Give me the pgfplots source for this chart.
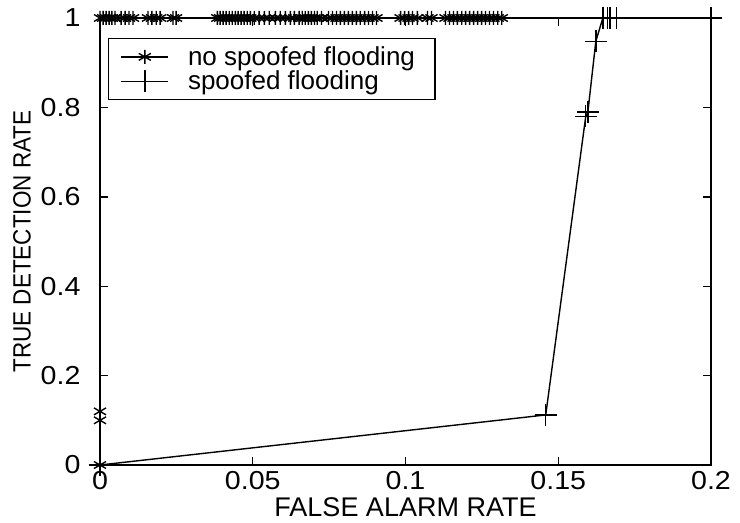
\documentclass[border=0pt]{standalone}
\usepackage{pgfplots}
\pgfplotsset{compat=1.18}
\usepackage{fontspec}
\setmainfont{Liberation Sans}
\newfontfamily\tickfont{Liberation Sans}[FakeStretch=1.1]
\begin{document}
\begin{tikzpicture}
\begin{axis}[
  scale only axis,
  width=611pt, height=447pt,
  xmin=0, xmax=0.2, ymin=0, ymax=1,
  xtick={0,0.05,0.1,0.15,0.2},
  ytick={0,0.2,0.4,0.6,0.8,1},
  xticklabels={0,0.05,0.1,0.15,0.2},
  yticklabels={0,0.2,0.4,0.6,0.8,1},
  tick align=inside,
  major tick length=8pt,
  axis line style={line width=1.6pt},
  tick style={line width=1.4pt, black},
  ticklabel style={font=\tickfont\fontsize{26}{28}\selectfont},
  xticklabel style={yshift=-3pt},
  yticklabel style={xshift=-16pt},
  /pgf/number format/assume math mode=true,
  xlabel={FALSE ALARM RATE},
  ylabel={\scalebox{0.9}[1]{TRUE DETECTION RATE}},
  xlabel style={font=\fontsize{27}{30}\selectfont, at={(rel axis cs:0.5,-0.094)}, anchor=center},
  ylabel style={font=\fontsize{25}{30}\selectfont, at={(rel axis cs:-0.1277,0.5)}, anchor=center},
  clip=false,
  legend cell align=left,
  legend style={at={(rel axis cs:0.0131,0.955)}, anchor=north west,
    draw=black, line width=1.2pt, font=\fontsize{26}{30}\selectfont,
    inner xsep=12pt, inner ysep=6pt, row sep=0pt,
    /tikz/every odd column/.style={column sep=17pt}},
  legend image code/.code={\draw[mark repeat=2,mark phase=2,#1] plot coordinates {(0pt,0pt) (23.5pt,0pt) (47pt,0pt)};},
]
\addplot[black, line width=1.4pt, mark=asterisk, mark size=7pt, mark options={line width=1.4pt}] coordinates {
(0,0) (0,0.1) (0,0.12) (0,1)
(0.0010,1) (0.0020,1) (0.0030,1) (0.0039,1) (0.0049,1)
(0.0069,1) (0.0082,1) (0.0095,1) (0.0108,1)
(0.0157,1) (0.0170,1) (0.0184,1) (0.0197,1)
(0.0239,1) (0.0249,1)
(0.0384,1) (0.0393,1) (0.0403,1) (0.0413,1) (0.0423,1) (0.0433,1) (0.0443,1) (0.0452,1) (0.0462,1) (0.0472,1) (0.0482,1) (0.0492,1)
(0.0505,1) (0.0521,1) (0.0538,1) (0.0554,1) (0.0574,1) (0.0590,1) (0.0607,1) (0.0623,1) (0.0636,1)
(0.0652,1) (0.0662,1) (0.0672,1) (0.0682,1) (0.0692,1) (0.0702,1)
(0.0711,1) (0.0725,1)
(0.0748,1) (0.0761,1) (0.0774,1) (0.0787,1)
(0.0800,1) (0.0813,1) (0.0826,1) (0.0839,1) (0.0852,1) (0.0866,1) (0.0879,1) (0.0892,1) (0.0905,1)
(0.0984,1) (0.0997,1) (0.1010,1) (0.1023,1)
(0.1039,1)
(0.1072,1) (0.1085,1)
(0.1131,1) (0.1144,1)
(0.1157,1) (0.1170,1) (0.1184,1) (0.1197,1) (0.1210,1) (0.1223,1) (0.1236,1) (0.1249,1) (0.1262,1) (0.1275,1) (0.1288,1) (0.1302,1) (0.1315,1)
};
\addlegendentry{no spoofed flooding\hspace*{6pt}}
\addplot[black, line width=1.4pt, mark=+, mark size=11pt, mark options={line width=1.4pt}] coordinates {
(0,0) (0.1459,0.112) (0.1590,0.78) (0.1597,0.79) (0.1623,0.948) (0.1646,1) (0.1662,1) (0.1669,1) (0.1690,1) (0.2,1)
};
\addlegendentry{spoofed flooding}
\end{axis}
\pgfresetboundingbox
\path[use as bounding box] ([shift={(-100pt,-57pt)}]current axis.south west) rectangle ([shift={(29pt,18pt)}]current axis.north east);
\end{tikzpicture}
\end{document}
